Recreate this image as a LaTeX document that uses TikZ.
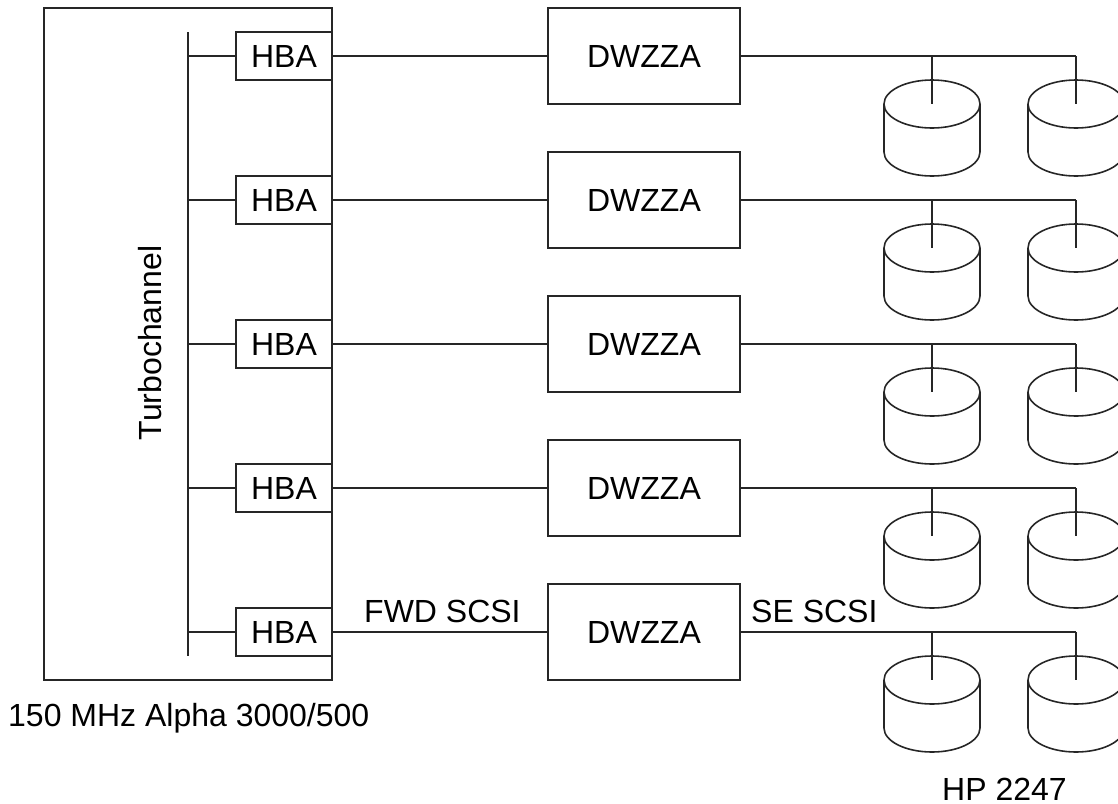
\documentclass[tikz,border=0pt]{standalone}
\usepackage{fontspec}
\setmainfont{Liberation Sans}
\tikzset{
  wire/.style={line width=1.6pt,draw=black!85},
  boxnode/.style={draw=black!85,line width=1.6pt,rectangle,inner sep=0pt},
  hbabox/.style={boxnode,minimum width=96pt,minimum height=48pt},
  dwbox/.style={boxnode,minimum width=192pt,minimum height=96pt},
  lbl/.style={inner sep=0pt,font=\fontsize{32}{36}\selectfont},
}
\begin{document}
\begin{tikzpicture}[x=1pt,y=-1pt]
\useasboundingbox (0,0) rectangle (1118,803);
\node[boxnode,minimum width=288pt,minimum height=672pt] (main) at (188,344) {};
\coordinate (bustop) at (188,32);
\coordinate (busbot) at (188,656);
\draw[wire] (bustop) -- (busbot);
\node[lbl,rotate=90] (tc) at (150,343) {Turbochannel};
\foreach \i/\r in {1/56,2/200,3/344,4/488,5/632}{
  \node[hbabox,lbl] (hba\i) at (284,\r) {HBA};
  \node[dwbox,lbl] (dw\i) at (644,\r) {DWZZA};
  \coordinate (tap\i) at (188,\r);
  \coordinate (busend\i) at (1076,\r);
  \draw[wire] (tap\i) -- (hba\i.west);
  \draw[wire] (hba\i.east) -- (dw\i.west);
  \draw[wire] (dw\i.east) -- (busend\i);
  \foreach \d/\cx in {a/932,b/1076}{
    \coordinate (disk\i\d) at (\cx,\r+48);
    \coordinate (stem\i\d) at (\cx,\r);
    \coordinate (dl\i\d) at (\cx-48,\r+48);
    \coordinate (dr\i\d) at (\cx+48,\r+48);
    \draw[wire] (dl\i\d) -- ++(0,48)
      arc[start angle=180,end angle=360,x radius=48pt,y radius=24pt]
      -- (dr\i\d);
    \draw[wire] (disk\i\d) ellipse[x radius=48pt,y radius=24pt];
    \draw[wire] (stem\i\d) -- (disk\i\d);
  }
}
\node[lbl,anchor=base west] (alpha) at (8,726) {150 MHz Alpha 3000/500};
\node[lbl,anchor=base west] (fwd) at (364,622) {FWD SCSI};
\node[lbl,anchor=base west] (se) at (751,622) {SE SCSI};
\node[lbl,anchor=base west] (hp) at (942,800) {HP 2247};
\end{tikzpicture}
\end{document}
